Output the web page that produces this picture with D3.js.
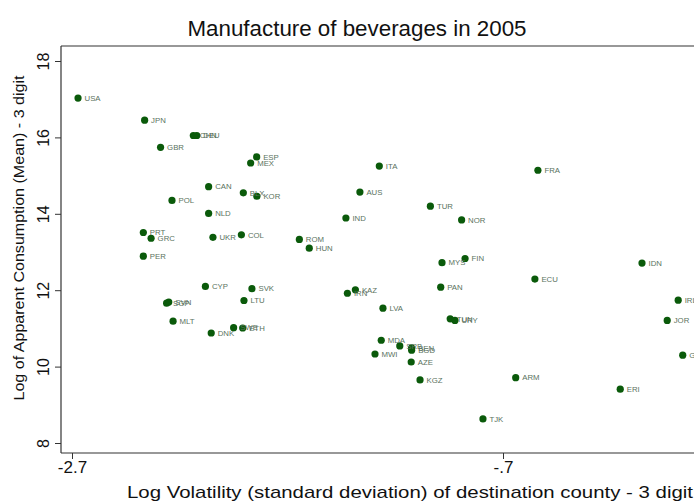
<!DOCTYPE html>
<html lang="en">
<head>
	<meta charset="utf-8">
	<title>Manufacture of beverages in 2005</title>
	<script src="https://cdn.jsdelivr.net/npm/d3@7/dist/d3.min.js"></script>
</head>
<style>
	body { margin: 0; background: #fff; }
	svg { display: block; font-family: Arial, "Liberation Sans", sans-serif; }
	.dot { fill: #0a5a0a; }
	.lbl { fill: #5a725e; font-size: 7.8px; }
</style>
<body>
	<svg id="chart" width="694" height="501"></svg>
	<script type="text/javascript">

		var countries = ["USA","JPN","CHN","DEU","GBR","ESP","MEX","CAN","BLX","KOR","POL","NLD","PRT","GRC","UKR","COL","PER","ROM","HUN",
			"CYP","SVK","SGP","SVN","LTU","MLT","DNK","SWE","ETH","ITA","AUS","TUR","NOR","IND","MYS","FIN","KAZ","IRN","PAN","LVA",
			"TUN","URY","MDA","SRB","BEN","BGD","MWI","AZE","KGZ","ARM","FRA","ECU","IDN","IRL","JOR","GHA","ERI","TJK"];
		var volatility = [-2.672,-2.363,-2.137,-2.121,-2.289,-1.843,-1.871,-2.066,-1.905,-1.842,-2.236,-2.066,-2.369,-2.333,-2.046,-1.914,-2.369,-1.645,-1.599,
			-2.081,-1.865,-2.261,-2.251,-1.902,-2.231,-2.054,-1.950,-1.908,-1.274,-1.364,-1.037,-0.892,-1.429,-0.983,-0.876,-1.385,-1.422,-0.989,-1.257,
			-0.945,-0.923,-1.265,-1.179,-1.124,-1.124,-1.294,-1.126,-1.085,-0.641,-0.538,-0.552,-0.055,0.113,0.062,0.134,-0.156,-0.793];
		var consumption = [17.03,16.45,16.05,16.05,15.74,15.49,15.33,14.71,14.55,14.46,14.35,14.01,13.51,13.36,13.385,13.45,12.89,13.33,13.10,
			12.10,12.04,11.66,11.69,11.73,11.19,10.88,11.02,11.01,15.25,14.57,14.20,13.84,13.89,12.72,12.83,12.01,11.92,12.08,11.53,
			11.25,11.21,10.69,10.54,10.49,10.43,10.33,10.12,9.65,9.71,15.14,12.29,12.71,11.74,11.21,10.30,9.41,8.63];

		var xTicks = [-2.7, -0.7],
			xTickLabels = ["-2.7", "-.7"],
			yTicks = [8, 10, 12, 14, 16, 18];

		var data = countries.map(function(c, i) {
			return {name: c, x: volatility[i], y: consumption[i]};
		});

		var svg = d3.select("#chart"),
			frame = {left: 61, top: 46, bottom: 453, right: 760};

		var x = d3.scaleLinear().domain([-2.7, -0.7]).range([72, 503]),
			y = d3.scaleLinear().domain([8, 18]).range([443, 61]);

		// title
		svg.append("text")
			.attr("x", 357).attr("y", 36)
			.attr("text-anchor", "middle")
			.style("font-size", "22px")
			.attr("textLength", 339).attr("lengthAdjust", "spacingAndGlyphs")
			.attr("fill", "#111")
			.text("Manufacture of beverages in 2005");

		// frame lines
		svg.append("line").attr("x1", frame.left).attr("x2", frame.left).attr("y1", frame.top).attr("y2", frame.bottom)
			.attr("stroke", "#333").attr("stroke-width", 1.2);
		svg.append("line").attr("x1", frame.left).attr("x2", frame.right).attr("y1", frame.bottom).attr("y2", frame.bottom)
			.attr("stroke", "#333").attr("stroke-width", 1.2);
		svg.append("line").attr("x1", frame.left).attr("x2", frame.right).attr("y1", frame.top).attr("y2", frame.top)
			.attr("stroke", "#333").attr("stroke-width", 1.2);

		// y axis
		var gy = svg.append("g")
			.attr("transform", "translate(" + frame.left + ",0)")
			.call(d3.axisLeft(y).tickValues(yTicks).tickSize(6).tickFormat(d3.format("d")));
		gy.select(".domain").remove();
		gy.selectAll(".tick line").attr("stroke", "#333");
		gy.selectAll(".tick text")
			.attr("x", 0).attr("dy", "0.35em")
			.attr("transform", "translate(-18,0) rotate(-90)")
			.attr("text-anchor", "middle")
			.attr("fill", "#111")
			.style("font-size", "16px")
			.style("font-family", "Arial, 'Liberation Sans', sans-serif");

		// x axis
		var gx = svg.append("g")
			.attr("transform", "translate(0," + frame.bottom + ")")
			.call(d3.axisBottom(x).tickValues(xTicks).tickSize(6).tickFormat(function(d, i) { return xTickLabels[i]; }));
		gx.select(".domain").remove();
		gx.selectAll(".tick line").attr("stroke", "#333");
		gx.selectAll(".tick text")
			.attr("y", 8)
			.attr("fill", "#111")
			.style("font-size", "17px")
			.style("font-family", "Arial, 'Liberation Sans', sans-serif");

		// axis titles
		svg.append("text")
			.attr("x", 410).attr("y", 498)
			.attr("text-anchor", "middle")
			.style("font-size", "17px")
			.attr("textLength", 566).attr("lengthAdjust", "spacingAndGlyphs")
			.attr("fill", "#111")
			.text("Log Volatility (standard deviation) of destination county - 3 digit");

		svg.append("text")
			.attr("transform", "translate(24,238) rotate(-90)")
			.attr("text-anchor", "middle")
			.style("font-size", "14px")
			.attr("textLength", 325).attr("lengthAdjust", "spacingAndGlyphs")
			.attr("fill", "#111")
			.text("Log of Apparent Consumption (Mean) - 3 digit");

		// points + labels
		var pts = svg.append("g");
		pts.selectAll(".dot")
			.data(data)
			.enter().append("circle")
			.attr("class", "dot")
			.attr("cx", function(d) { return x(d.x); })
			.attr("cy", function(d) { return y(d.y); })
			.attr("r", 3.6);

		pts.selectAll(".lbl")
			.data(data)
			.enter().append("text")
			.attr("class", "lbl")
			.attr("x", function(d) { return x(d.x) + 6.5; })
			.attr("y", function(d) { return y(d.y); })
			.attr("dy", "0.35em")
			.text(function(d) { return d.name; });
	</script>
</body>
</html>
